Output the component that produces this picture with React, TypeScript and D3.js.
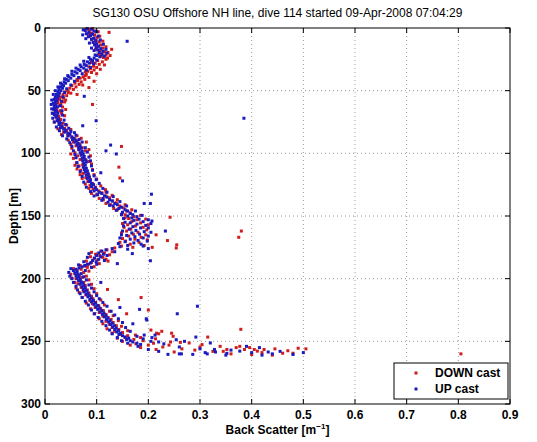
import React from "react";
import * as d3 from "d3";

const TITLE = "SG130 OSU Offshore NH line, dive 114 started 09-Apr-2008 07:04:29";
const X_TICKS = [0, 0.1, 0.2, 0.3, 0.4, 0.5, 0.6, 0.7, 0.8, 0.9];
const Y_TICKS = [0, 50, 100, 150, 200, 250, 300];
const SERIES_NAMES = ["DOWN cast", "UP cast"];

// [backscatter, depth]
const DOWN_CAST: [number, number][] = [
[0.092,0.5],[0.085,1.5],[0.098,2.5],[0.124,3.5],[0.09,4],[0.096,5.5],[0.087,6.5],[0.101,7.5],[0.094,8.5],[0.099,10],[0.105,11],[0.097,12.5],[0.108,13.5],[0.103,15],[0.112,16],[0.129,17],[0.106,18],[0.115,19],[0.11,20.5],[0.118,21.5],[0.108,22.5],[0.121,24],[0.118,25],[0.102,26],[0.111,27],[0.097,28],[0.105,29],[0.094,30.5],[0.1,31.5],[0.088,32.5],[0.095,33.5],[0.083,34.5],[0.09,35.5],[0.078,38],[0.08,37],[0.074,39],[0.068,40],[0.077,41],[0.063,42],[0.07,43],[0.058,44],[0.073,45.5],[0.052,46],[0.06,47],[0.048,48],[0.055,49],[0.044,50],[0.038,51],[0.05,52],[0.035,53],[0.042,54],[0.03,55],[0.036,56],[0.028,57],[0.092,61],[0.033,58.5],[0.025,59.5],[0.031,60.5],[0.027,62],[0.034,63],[0.022,64.5],[0.029,66],[0.024,67],[0.032,68],[0.02,69.5],[0.027,70.5],[0.023,72],[0.03,73],[0.026,74.5],[0.035,76],[0.028,77],[0.033,79],[0.038,80],[0.042,82],[0.036,83],[0.048,84.5],[0.044,86],[0.052,87],[0.058,88.5],[0.062,90],[0.055,91],[0.067,92.5],[0.148,94.5],[0.06,94],[0.072,95.5],[0.065,97],[0.078,98],[0.058,99.5],[0.07,101],[0.063,102],[0.075,103.5],[0.068,105],[0.08,106],[0.061,107.5],[0.073,109],[0.066,110],[0.143,111],[0.077,112],[0.069,113.5],[0.082,115],[0.074,116],[0.145,119.7],[0.085,118],[0.079,119.5],[0.088,121],[0.083,122.5],[0.092,124],[0.087,125.5],[0.098,127],[0.117,129],[0.093,128.5],[0.104,130],[0.11,131.5],[0.1,133],[0.118,134],[0.125,135.5],[0.113,137],[0.131,138],[0.138,139.5],[0.127,141],[0.145,142],[0.152,143.5],[0.14,145],[0.158,146],[0.165,147.5],[0.155,149],[0.242,151],[0.172,150.5],[0.162,152],[0.178,153],[0.168,154.5],[0.185,155.5],[0.16,157],[0.175,158],[0.19,159],[0.166,160.5],[0.38,162],[0.158,162],[0.18,163],[0.171,164.5],[0.215,165],[0.375,167],[0.162,166],[0.186,167],[0.174,168.5],[0.237,169.6],[0.156,170],[0.182,171],[0.165,172.5],[0.255,173],[0.148,174],[0.2075,175],[0.254,175.5],[0.135,175.5],[0.12,177],[0.108,178],[0.115,179.5],[0.098,180.5],[0.106,181.5],[0.112,183],[0.095,184],[0.102,185],[0.122,186],[0.09,187],[0.085,188.5],[0.078,190],[0.082,191],[0.07,192.5],[0.062,193.5],[0.075,195],[0.058,196],[0.066,197.5],[0.072,199],[0.06,200],[0.068,201.5],[0.075,203],[0.064,204],[0.078,205.5],[0.07,207],[0.121,208.6],[0.082,209],[0.074,210],[0.085,211.5],[0.079,213],[0.09,214],[0.142,216.7],[0.186,215],[0.093,216],[0.087,217.5],[0.098,219],[0.092,220],[0.104,221.5],[0.2,225],[0.097,223],[0.108,224],[0.113,225.5],[0.105,227],[0.158,228],[0.118,228.5],[0.112,230],[0.122,231],[0.128,232.5],[0.118,234],[0.132,235],[0.125,236.5],[0.138,237.5],[0.13,239],[0.379,240.4],[0.205,241],[0.143,240.5],[0.135,242],[0.226,242],[0.15,243],[0.216,243.5],[0.245,243.5],[0.145,244.5],[0.22,244],[0.16,245.5],[0.248,246],[0.315,246.6],[0.155,247],[0.214,248],[0.172,248.5],[0.19,249.5],[0.243,250.5],[0.262,250.8],[0.279,251.3],[0.304,252.6],[0.176,252],[0.2,253],[0.339,254],[0.377,254],[0.37,255],[0.396,255],[0.352,256.5],[0.386,256.5],[0.405,256.5],[0.424,256.5],[0.411,257.8],[0.42,259],[0.805,260],[0.445,256],[0.47,257.5],[0.49,255.5],[0.505,256],[0.46,259.5],[0.228,254.5],[0.265,256],[0.325,258],[0.29,257],[0.36,260],[0.44,261],
[0.079,1],[0.103,3],[0.083,5],[0.106,6.5],[0.091,9],[0.112,10.5],[0.1,14],[0.118,15],[0.098,17],[0.122,19.5],[0.104,21],[0.126,22],[0.113,23.5],[0.09,27.5],[0.115,29.5],[0.085,31],[0.107,33],[0.078,35],[0.1,36.5],[0.085,39.5],[0.062,41],[0.095,42.5],[0.066,45],[0.085,47.5],[0.045,51.5],[0.062,53],[0.04,57.5],[0.02,56],[0.038,59],[0.018,63.5],[0.04,65],[0.015,68],[0.038,70],[0.018,75],[0.042,77.5],[0.025,80.5],[0.05,81],[0.032,85],[0.062,86],[0.045,89.5],[0.07,88],[0.05,93],[0.08,91],[0.052,96],[0.085,97],[0.05,100.5],[0.088,102],[0.055,104],[0.086,106.5],[0.058,109.5],[0.09,108.5],[0.062,112.5],[0.092,113],[0.068,117],[0.095,117],[0.072,120],[0.1,120.5],[0.078,124.5],[0.108,126],[0.085,128],[0.118,131],[0.09,132],[0.13,133.5],[0.105,136],[0.14,137],[0.118,140],[0.155,141],[0.133,144],[0.168,145],[0.148,148.5],[0.185,149.5],[0.155,151.5],[0.195,152.5],[0.15,156],[0.2,157],[0.153,159],[0.197,161],[0.148,163.5],[0.195,165],[0.15,168],[0.198,169],[0.145,171],[0.192,173.5],[0.17,175],[0.13,178.5],[0.09,179],[0.125,181],[0.088,182.5],[0.118,184.5],[0.08,186],[0.105,188],[0.068,189.5],[0.095,190.5],[0.055,192],[0.085,194],[0.05,196.5],[0.08,198],[0.052,199.5],[0.085,201],[0.058,203],[0.09,204.5],[0.06,207.5],[0.095,208],[0.066,211],[0.1,212],[0.072,215],[0.108,217],[0.08,219.5],[0.115,221],[0.088,224],[0.125,226],[0.095,228],[0.132,229.5],[0.105,232],[0.142,233.5],[0.112,236],[0.148,238],[0.12,240],[0.16,241.5],[0.13,243.5],[0.175,245],[0.14,247.5],[0.185,247],[0.15,250],[0.21,251.5],[0.165,253],[0.24,253],[0.185,255],[0.3,254.5],[0.215,256.5],[0.345,258],[0.25,258.5],[0.4,260.5],[0.48,259.5]
];

const UP_CAST: [number, number][] = [
[0.082,0.5],[0.09,1],[0.078,2],[0.095,2.5],[0.085,3.5],[0.08,4.5],[0.092,5],[0.088,6],[0.084,7],[0.095,8],[0.09,9],[0.159,10.6],[0.098,10],[0.093,11.5],[0.1,12.5],[0.096,13.5],[0.104,14.5],[0.099,15.5],[0.108,16.5],[0.102,17.5],[0.112,18.5],[0.105,19.5],[0.11,21],[0.1,22],[0.106,23],[0.095,24],[0.088,25],[0.092,26],[0.082,27],[0.086,28],[0.076,29],[0.08,30],[0.07,31],[0.075,32],[0.064,33],[0.068,34],[0.058,35],[0.062,36],[0.052,37],[0.056,38],[0.046,39],[0.05,40],[0.041,41],[0.045,42],[0.037,43],[0.04,44],[0.033,45],[0.036,46],[0.03,47],[0.034,48],[0.027,49],[0.031,50],[0.025,51],[0.028,52],[0.022,53],[0.026,54],[0.076,54.5],[0.02,55],[0.024,56],[0.018,57],[0.023,58],[0.02,59],[0.016,60],[0.021,61],[0.018,62],[0.024,63],[0.019,64],[0.017,65],[0.022,66],[0.02,67],[0.025,68],[0.018,69],[0.023,70],[0.021,71],[0.385,72],[0.026,72.5],[0.099,74],[0.024,74],[0.028,75],[0.031,76],[0.073,78],[0.027,77],[0.033,78.5],[0.03,79.5],[0.036,80.5],[0.04,81.5],[0.057,83.5],[0.038,83],[0.044,84],[0.048,85],[0.045,86],[0.052,87],[0.056,88],[0.053,89],[0.06,90],[0.058,91],[0.064,92],[0.127,93.4],[0.062,93],[0.068,94],[0.065,95],[0.118,98],[0.07,96],[0.066,97],[0.072,98.5],[0.068,99.5],[0.138,100.5],[0.074,100.5],[0.07,101.5],[0.076,102.5],[0.072,104],[0.078,105],[0.073,106],[0.08,107],[0.075,108],[0.078,109.5],[0.074,111],[0.08,112],[0.076,113],[0.108,115.5],[0.082,114],[0.078,115],[0.084,116.5],[0.08,117.5],[0.086,119],[0.15,122],[0.082,120],[0.088,121.5],[0.085,122.5],[0.09,124],[0.094,125],[0.09,126.5],[0.097,127.5],[0.1,129],[0.095,130],[0.105,131],[0.11,132],[0.204,140],[0.102,133],[0.115,134],[0.12,135],[0.112,136],[0.125,137],[0.13,138],[0.122,139],[0.135,140],[0.14,141],[0.132,142],[0.148,143],[0.192,140],[0.206,132.6],[0.143,144],[0.155,145],[0.16,146],[0.15,147],[0.165,148],[0.17,149],[0.16,150],[0.178,150.5],[0.207,154],[0.168,151.5],[0.182,152.5],[0.172,153.5],[0.19,154.5],[0.165,155.5],[0.178,156.5],[0.195,157.5],[0.17,158.5],[0.185,159.5],[0.163,160.5],[0.233,162],[0.176,161.5],[0.192,162.5],[0.168,163.5],[0.183,164.5],[0.158,165.5],[0.174,166.5],[0.19,167.5],[0.165,168.5],[0.18,169.5],[0.155,170.5],[0.172,171.5],[0.186,172.5],[0.16,173.5],[0.145,174.5],[0.2,176],[0.13,176],[0.118,177],[0.11,178],[0.169,180],[0.104,179.5],[0.113,180.5],[0.1,181.5],[0.108,182.5],[0.096,183.5],[0.14,188],[0.104,184.5],[0.092,185.5],[0.099,186.5],[0.204,185.7],[0.088,187.5],[0.082,188.5],[0.077,189.5],[0.072,190.5],[0.066,191.5],[0.06,192.5],[0.055,193.5],[0.062,194.5],[0.058,195.5],[0.064,196.5],[0.06,197.5],[0.066,198.5],[0.062,199.5],[0.068,200.5],[0.065,201.5],[0.108,203],[0.07,202.5],[0.073,203.5],[0.068,204.5],[0.075,205.5],[0.072,206.5],[0.078,207.5],[0.074,208.5],[0.08,209.5],[0.076,210.5],[0.083,211.5],[0.08,212.5],[0.086,213.5],[0.083,214.5],[0.09,215.5],[0.087,216.5],[0.094,217.5],[0.09,218.5],[0.098,219.5],[0.095,220.5],[0.102,221.5],[0.145,223],[0.183,224.5],[0.099,222.5],[0.106,223.5],[0.102,224.5],[0.11,225.5],[0.256,228],[0.107,226.5],[0.114,227.5],[0.111,228.5],[0.118,229.5],[0.295,222],[0.115,230.5],[0.122,231.5],[0.196,232],[0.119,232.5],[0.126,233.5],[0.197,233],[0.123,234.5],[0.13,235.5],[0.17,236],[0.127,236.5],[0.134,237.5],[0.131,238.5],[0.138,239.5],[0.135,240.5],[0.142,241.5],[0.139,242.5],[0.146,243.5],[0.143,244.5],[0.192,245],[0.213,245],[0.15,245.5],[0.207,247],[0.155,246.5],[0.162,247.5],[0.254,248.7],[0.158,248.5],[0.292,246.6],[0.165,249.5],[0.27,250],[0.22,250.5],[0.17,250.5],[0.32,251.3],[0.39,254],[0.415,255],[0.36,257],[0.328,256.5],[0.33,258.5],[0.377,257.8],[0.432,258.5],[0.4,259],[0.31,259],[0.352,259.6],[0.314,260],[0.26,260],[0.264,260],[0.238,260.4],[0.286,260.4],[0.178,251.5],[0.185,252.5],[0.455,258],[0.48,260.5],[0.5,259],[0.42,261],
[0.074,1.5],[0.1,3],[0.073,5.5],[0.103,6.5],[0.079,8.5],[0.107,9.5],[0.086,12],[0.113,13],[0.09,16],[0.118,17],[0.095,18],[0.12,20],[0.097,21.5],[0.115,22.5],[0.085,23.5],[0.1,25.5],[0.075,26.5],[0.094,28.5],[0.068,29.5],[0.088,31.5],[0.06,32],[0.08,33.5],[0.052,34.5],[0.072,36.5],[0.044,38],[0.065,39.5],[0.038,40.5],[0.057,42.5],[0.03,44],[0.05,45.5],[0.025,47],[0.042,48.5],[0.02,50],[0.038,51.5],[0.016,53],[0.035,55],[0.013,57.5],[0.032,58.5],[0.012,61],[0.03,62],[0.013,64.5],[0.033,66],[0.014,68],[0.034,69.5],[0.015,72],[0.037,73.5],[0.018,75],[0.04,77],[0.022,79],[0.046,80],[0.028,82],[0.05,82.5],[0.034,86],[0.06,85.5],[0.042,88.5],[0.066,89],[0.048,91.5],[0.072,91],[0.052,94.5],[0.078,95.5],[0.055,98],[0.082,99],[0.058,101],[0.085,103],[0.06,103.5],[0.088,106],[0.062,107.5],[0.09,110],[0.064,110.5],[0.092,113.5],[0.068,114.5],[0.095,118],[0.072,118.5],[0.099,121],[0.075,123],[0.105,124],[0.08,127],[0.112,128],[0.088,130.5],[0.12,131],[0.095,134],[0.132,134.5],[0.11,137.5],[0.145,138.5],[0.125,141.5],[0.158,142],[0.138,145.5],[0.175,146],[0.148,149],[0.188,149.5],[0.152,152],[0.2,153],[0.155,155],[0.205,156],[0.152,158],[0.2,159.5],[0.15,162],[0.205,163],[0.148,165],[0.2,166],[0.145,167.5],[0.198,170],[0.142,172],[0.19,174],[0.16,176.5],[0.135,178.5],[0.085,180],[0.12,181.5],[0.082,183],[0.115,185.5],[0.075,186.5],[0.1,188.5],[0.065,189],[0.09,191],[0.05,192],[0.078,193.5],[0.046,195],[0.07,196],[0.048,198],[0.075,198.5],[0.052,200],[0.08,201],[0.055,203],[0.085,205],[0.06,206],[0.09,207.5],[0.063,209],[0.095,210.5],[0.068,212],[0.1,213.5],[0.072,215],[0.105,216],[0.078,218],[0.112,219],[0.084,221],[0.12,222],[0.09,225],[0.128,226],[0.096,228],[0.135,229],[0.103,231],[0.142,232],[0.11,234],[0.15,235],[0.118,237.5],[0.156,239],[0.125,241],[0.165,242],[0.13,244],[0.178,246],[0.14,247],[0.19,248],[0.148,249.5],[0.205,250],[0.16,251.5],[0.23,252],[0.18,254],[0.26,254.5],[0.2,256.5],[0.3,256],[0.22,258],[0.35,261],[0.44,260]
];

const W = 537, H = 442;
const M = { left: 45, right: 510, top: 28, bottom: 404 };
const RED = "#d01c1c";
const BLUE = "#1a1ac0";
const FONT = "'Liberation Sans', Arial, Helvetica, sans-serif";

export default function App() {
  const x = d3.scaleLinear().domain([0, 0.9]).range([M.left, M.right]);
  const y = d3.scaleLinear().domain([0, 300]).range([M.top, M.bottom]);
  const ms = 3;
  const tick = 5;
  return (
    <svg width={W} height={H} style={{ position: "absolute", left: 0, top: 0, background: "#fff" }} fontFamily={FONT}>
      <rect x={0} y={0} width={W} height={H} fill="#fff" />
      {X_TICKS.slice(1, -1).map((t) => (
        <line key={"gx" + t} x1={x(t)} x2={x(t)} y1={M.top} y2={M.bottom} stroke="#9a9a9a" strokeWidth={1} strokeDasharray="1,3" />
      ))}
      {Y_TICKS.slice(1, -1).map((t) => (
        <line key={"gy" + t} x1={M.left} x2={M.right} y1={y(t)} y2={y(t)} stroke="#9a9a9a" strokeWidth={1} strokeDasharray="1,3" />
      ))}
      {DOWN_CAST.map((p, i) => (
        <rect key={"d" + i} x={x(p[0]) - ms / 2} y={y(p[1]) - ms / 2} width={ms} height={ms} fill={RED} />
      ))}
      {UP_CAST.map((p, i) => (
        <rect key={"u" + i} x={x(p[0]) - ms / 2} y={y(p[1]) - ms / 2} width={ms} height={ms} fill={BLUE} />
      ))}
      <rect x={M.left} y={M.top} width={M.right - M.left} height={M.bottom - M.top} fill="none" stroke="#000" strokeWidth={1} />
      {X_TICKS.map((t) => (
        <g key={"tx" + t}>
          <line x1={x(t)} x2={x(t)} y1={M.bottom} y2={M.bottom - tick} stroke="#000" />
          <line x1={x(t)} x2={x(t)} y1={M.top} y2={M.top + tick} stroke="#000" />
          <text x={x(t)} y={419} textAnchor="middle" fontSize={12} fontWeight="bold">{String(t)}</text>
        </g>
      ))}
      {Y_TICKS.map((t) => (
        <g key={"ty" + t}>
          <line x1={M.left} x2={M.left + tick} y1={y(t)} y2={y(t)} stroke="#000" />
          <line x1={M.right} x2={M.right - tick} y1={y(t)} y2={y(t)} stroke="#000" />
          <text x={41} y={y(t) + 4} textAnchor="end" fontSize={12} fontWeight="bold">{String(t)}</text>
        </g>
      ))}
      <text x={(M.left + M.right) / 2} y={17} textAnchor="middle" fontSize={12}>{TITLE}</text>
      <text x={(M.left + M.right) / 2} y={434} textAnchor="middle" fontSize={12} fontWeight="bold">
        Back Scatter [m<tspan dy={-5} fontSize={8}>−1</tspan><tspan dy={5}>]</tspan>
      </text>
      <text transform={`translate(18,${(M.top + M.bottom) / 2}) rotate(-90)`} textAnchor="middle" fontSize={12} fontWeight="bold">Depth [m]</text>
      <rect x={394} y={363} width={114} height={36} fill="#fff" stroke="#000" strokeWidth={1} />
      {SERIES_NAMES.map((n, i) => (
        <g key={n}>
          <rect x={416 - 1.5} y={373 + i * 16 - 1.5} width={3} height={3} fill={i === 0 ? RED : BLUE} />
          <text x={435} y={377 + i * 16} fontSize={12} fontWeight="bold">{n}</text>
        </g>
      ))}
    </svg>
  );
}
